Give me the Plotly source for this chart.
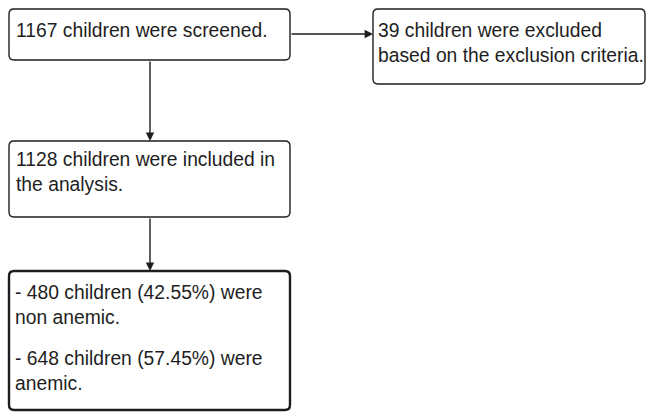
import plotly.graph_objects as go

# ---- data ----
stage_names = ["screened", "excluded", "included", "non_anemic", "anemic"]
stage_counts = [1167, 39, 1128, 480, 648]
stage_pcts = [None, None, None, 42.55, 57.45]

box_texts = [
    [f"{stage_counts[0]} children were screened."],
    [f"{stage_counts[1]} children were excluded<br>based on the exclusion criteria."],
    [f"{stage_counts[2]} children were included in<br>the analysis."],
    [f"- {stage_counts[3]} children ({stage_pcts[3]:.2f}%) were<br>non anemic.",
     f"- {stage_counts[4]} children ({stage_pcts[4]:.2f}%) were<br>anemic."],
]

# ---- layout (pixel coords, y downward) ----
W, H = 649, 413
boxes = [  # x0, y0, x1, y1, line width
    (9, 9, 290, 60, 1.4),
    (373, 9, 645, 84, 1.4),
    (9, 141, 290, 217, 1.4),
    (9, 271, 290, 410, 2.4),
]
text_pos = [  # list of (x, y) per paragraph (top-left)
    [(14, 18)],
    [(376, 18)],
    [(14, 147)],
    [(13, 280), (13, 346)],
]
arrows = [  # tail x, tail y, tip x, tip y
    (290, 34, 373, 34),
    (150, 60, 150, 141),
    (150, 217, 150, 271),
]

FONT = "Liberation Sans, Arial, sans-serif"
FS = 19.3
INK = "#1e1e1e"


def rrect(x0, y0, x1, y1, r=5):
    return (f"M{x0+r},{y0} L{x1-r},{y0} Q{x1},{y0} {x1},{y0+r} "
            f"L{x1},{y1-r} Q{x1},{y1} {x1-r},{y1} L{x0+r},{y1} "
            f"Q{x0},{y1} {x0},{y1-r} L{x0},{y0+r} Q{x0},{y0} {x0+r},{y0} Z")


fig = go.Figure()
shapes = []
for (x0, y0, x1, y1, lw) in boxes:
    shapes.append(dict(type="path", path=rrect(x0, y0, x1, y1), xref="x", yref="y",
                       line=dict(color=INK, width=lw), fillcolor="white", layer="below"))

annots = []
for texts, poss in zip(box_texts, text_pos):
    for t, (x, y) in zip(texts, poss):
        annots.append(dict(x=x, y=y, xref="x", yref="y", text=t, showarrow=False,
                           xanchor="left", yanchor="top", align="left",
                           font=dict(family=FONT, size=FS, color=INK)))
for (ax, ay, x, y) in arrows:
    annots.append(dict(x=x, y=y, ax=ax, ay=ay, xref="x", yref="y", axref="x", ayref="y",
                       text="", showarrow=True, arrowhead=2, arrowsize=1.2,
                       arrowwidth=1.4, arrowcolor=INK, standoff=0, startstandoff=0))

fig.update_layout(
    width=W, height=H, margin=dict(l=0, r=0, t=0, b=0),
    paper_bgcolor="white", plot_bgcolor="white",
    xaxis=dict(range=[0, W], visible=False, fixedrange=True),
    yaxis=dict(range=[H, 0], visible=False, fixedrange=True),
    shapes=shapes, annotations=annots, showlegend=False,
)
fig.write_html("out.html", config={"displayModeBar": False},
               post_script="document.body.style.margin='0';document.body.style.overflow='hidden';")
